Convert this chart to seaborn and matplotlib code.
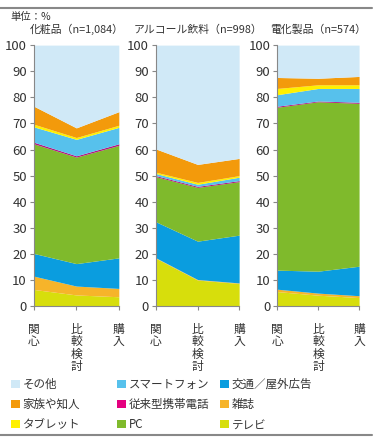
import matplotlib.pyplot as plt
import seaborn as sns
from matplotlib.patches import Patch
from matplotlib.lines import Line2D

# 段階（x軸）
stages = ["関\n心", "比\n較\n検\n討", "購\n入"]

# 媒体（下から積み上げ順）
media = ["テレビ", "雑誌", "交通／屋外広告", "PC", "従来型携帯電話",
         "スマートフォン", "タブレット", "家族や知人", "その他"]
colors = ["#d7de0c", "#f6b42a", "#0a9ddf", "#7fba2c", "#b3157f",
          "#57c1ec", "#fff000", "#f39a0b", "#d0e9f7"]

# 各パネルの値（%）、media の順
titles = ["化粧品（n=1,084）", "アルコール飲料（n=998）", "電化製品（n=574）"]

cosme = [
    [6.4, 4.3, 3.6],
    [5.1, 3.4, 3.2],
    [8.7, 8.6, 11.7],
    [42.0, 40.8, 43.1],
    [0.6, 0.5, 0.6],
    [5.9, 6.3, 6.3],
    [1.0, 0.7, 0.8],
    [6.9, 3.7, 5.2],
    [23.4, 31.7, 25.5],
]
alcohol = [
    [18.3, 10.0, 8.7],
    [0.2, 0.2, 0.2],
    [13.8, 14.7, 18.3],
    [17.3, 20.6, 20.5],
    [0.4, 0.4, 0.4],
    [0.8, 0.8, 1.3],
    [0.5, 0.7, 0.6],
    [8.9, 6.9, 6.6],
    [39.8, 45.7, 43.4],
]
electric = [
    [5.6, 4.2, 3.3],
    [0.9, 0.8, 0.7],
    [7.3, 8.4, 11.3],
    [62.4, 64.9, 62.4],
    [0.4, 0.3, 0.4],
    [4.4, 4.8, 5.3],
    [2.4, 1.4, 1.4],
    [4.2, 2.5, 3.2],
    [12.4, 12.7, 12.0],
]
panels = [cosme, alcohol, electric]

sns.set_style("ticks")
plt.rcParams["font.family"] = ["Noto Sans CJK JP", "DejaVu Sans"]

fig = plt.figure(figsize=(3.76, 4.38), dpi=100)
lefts = [0.090, 0.415, 0.737]
widths = [0.226, 0.221, 0.218]

for left, w, title, data in zip(lefts, widths, titles, panels):
    ax = fig.add_axes([left, 0.301, w, 0.596])
    ax.stackplot(range(len(stages)), data, colors=colors, linewidth=0)
    ax.set_xlim(0, 2)
    ax.set_ylim(0, 100)
    ax.set_yticks(range(0, 101, 10))
    ax.set_xticks(range(len(stages)))
    ax.set_xticklabels(stages, linespacing=0.95, va="top")
    ax.tick_params(axis="y", labelsize=9.5, length=3, width=0.8,
                   color="#888888", labelcolor="#333333", pad=2)
    ax.tick_params(axis="x", labelsize=8.5, length=3, width=0.8,
                   color="#888888", labelcolor="#333333", pad=9)
    ax.set_title(title, fontsize=7.8, color="#333333", pad=9)
    sns.despine(ax=ax)
    for s in ["left", "bottom"]:
        ax.spines[s].set_color("#888888")
        ax.spines[s].set_linewidth(0.8)

fig.text(0.027, 0.962, "単位：%", fontsize=7.5, color="#333333",
         va="center")

# 凡例（3列）
legend_cols = [["その他", "家族や知人", "タブレット"],
               ["スマートフォン", "従来型携帯電話", "PC"],
               ["交通／屋外広告", "雑誌", "テレビ"]]
legend_colors = {"その他": "#d0e9f7", "家族や知人": "#f39a0b",
                 "タブレット": "#fff000", "スマートフォン": "#57c1ec",
                 "従来型携帯電話": "#e4007f", "PC": "#7fba2c",
                 "交通／屋外広告": "#0a9ddf", "雑誌": "#f6b42a",
                 "テレビ": "#d7de0c"}
for x0, names in zip([0.030, 0.312, 0.586], legend_cols):
    handles = [Patch(facecolor=legend_colors[n], edgecolor="none", label=n)
               for n in names]
    fig.legend(handles=handles, loc="upper left",
               bbox_to_anchor=(x0, 0.137), frameon=False, fontsize=8.3,
               handlelength=0.75, handleheight=0.75, handletextpad=0.25,
               labelspacing=0.62, borderaxespad=0, borderpad=0,
               labelcolor="#333333")

# 上下の区切り線
fig.add_artist(Line2D([0, 0.99], [0.982, 0.982], color="#888888",
                      linewidth=1.5, transform=fig.transFigure))
fig.add_artist(Line2D([0, 0.99], [0.007, 0.007], color="#888888",
                      linewidth=1.5, transform=fig.transFigure))

fig.savefig("out.png", dpi=100)
